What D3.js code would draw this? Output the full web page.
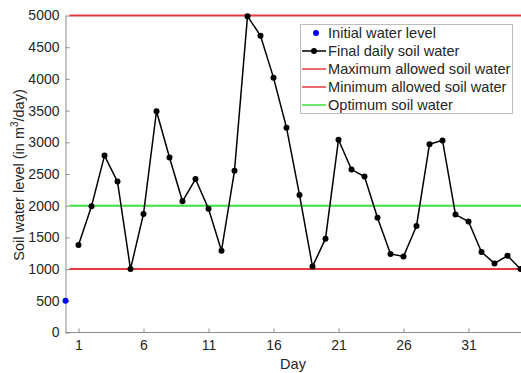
<!DOCTYPE html>
<html><head><meta charset="utf-8">
<script src="https://cdn.jsdelivr.net/npm/d3@7"></script>
<style>body{margin:0;background:#fff}svg{display:block;font-family:"Liberation Sans",Arial,sans-serif}</style>
</head><body><svg id="c" width="521" height="373"></svg>
<script>
const days = d3.range(1, 36);
const soilWater = [1380,1990,2790,2380,1000,1870,3490,2760,2070,2420,1950,1290,2550,4990,4680,4020,3230,2170,1040,1480,3040,2570,2460,1810,1240,1200,1680,2970,3030,1860,1750,1270,1090,1210,1000];
const initialDay = [0];
const initialLevel = [500];
const maxLevel = 5000, minLevel = 1000, optLevel = 2000;
const yTicks = d3.range(0, 5001, 500);
const xTicks = [1, 6, 11, 16, 21, 26, 31];
const legendLabels = ["Initial water level","Final daily soil water","Maximum allowed soil water","Minimum allowed soil water","Optimum soil water"];

const svg = d3.select("#c");
const x = d3.scaleLinear().domain([0, 35]).range([65.5, 520.5]);
const y = d3.scaleLinear().domain([0, 5000]).range([332.5, 15.5]);
const axisCol = "#8c8c8c", textCol = "#262626";

// axes
const gx = svg.append("g").attr("transform", `translate(0,${y(0)})`)
  .call(d3.axisBottom(x).tickValues(xTicks).tickSize(-4).tickPadding(8).tickSizeOuter(0));
const gy = svg.append("g").attr("transform", `translate(${x(0)},0)`)
  .call(d3.axisLeft(y).tickValues(yTicks).tickFormat(d3.format("d")).tickSize(-4).tickPadding(6).tickSizeOuter(0));
[gx, gy].forEach(g => {
  g.select(".domain").attr("stroke", axisCol).attr("stroke-width", 1);
  g.selectAll(".tick line").attr("stroke", axisCol);
  g.selectAll(".tick text").attr("fill", textCol).attr("font-size", 14).attr("font-family", "Liberation Sans, Arial, sans-serif");
});
gx.select(".domain").attr("d", `M${x(0)},0H521`);

// reference lines
const refs = [[maxLevel, "#e23a3f"], [minLevel, "#e23a3f"], [optLevel, "#3ee03e"]];
svg.selectAll(".ref").data(refs).enter().append("line")
  .attr("x1", x(0.3)).attr("x2", 521)
  .attr("y1", d => y(d[0])).attr("y2", d => y(d[0]))
  .attr("stroke", d => d[1]).attr("stroke-width", 2);

// data line
svg.append("path").datum(days.map((d, i) => [d, soilWater[i]]))
  .attr("fill", "none").attr("stroke", "#000").attr("stroke-width", 1.5)
  .attr("d", d3.line().x(d => x(d[0])).y(d => y(d[1])));
svg.selectAll(".pt").data(days).enter().append("circle")
  .attr("cx", d => x(d)).attr("cy", (d, i) => y(soilWater[i])).attr("r", 3).attr("fill", "#000");
svg.selectAll(".init").data(initialDay).enter().append("circle")
  .attr("cx", d => x(d)).attr("cy", (d, i) => y(initialLevel[i])).attr("r", 3).attr("fill", "#0000ff");

// labels
svg.append("text").attr("x", 293).attr("y", 369).attr("text-anchor", "middle")
  .attr("font-size", 14.5).attr("fill", textCol).text("Day");
const yl = svg.append("text").attr("transform", "translate(24,175) rotate(-90)")
  .attr("text-anchor", "middle").attr("font-size", 14.5).attr("fill", textCol);
yl.append("tspan").text("Soil water level (in m");
yl.append("tspan").attr("dy", -6).attr("font-size", 10).text("3");
yl.append("tspan").attr("dy", 6).text("/day)");

// legend
const lg = svg.append("g");
lg.append("rect").attr("x", 300.5).attr("y", 24.5).attr("width", 212).attr("height", 89)
  .attr("fill", "#fff").attr("stroke", "#bdbdbd").attr("stroke-width", 1);
const ly = i => 33 + i * 18;
legendLabels.forEach((t, i) => {
  lg.append("text").attr("x", 328).attr("y", ly(i) + 5).attr("font-size", 14.6).attr("fill", textCol).text(t);
});
lg.append("circle").attr("cx", 316).attr("cy", ly(0)).attr("r", 3).attr("fill", "#0000ff");
lg.append("line").attr("x1", 302).attr("x2", 326).attr("y1", ly(1)).attr("y2", ly(1)).attr("stroke", "#000").attr("stroke-width", 1.5);
lg.append("circle").attr("cx", 314).attr("cy", ly(1)).attr("r", 3).attr("fill", "#000");
[["#e23a3f", 2], ["#e23a3f", 3], ["#3ee03e", 4]].forEach(([c, i]) => {
  lg.append("line").attr("x1", 302).attr("x2", 326).attr("y1", ly(i)).attr("y2", ly(i)).attr("stroke", c).attr("stroke-width", 1.5);
});
</script></body></html>
